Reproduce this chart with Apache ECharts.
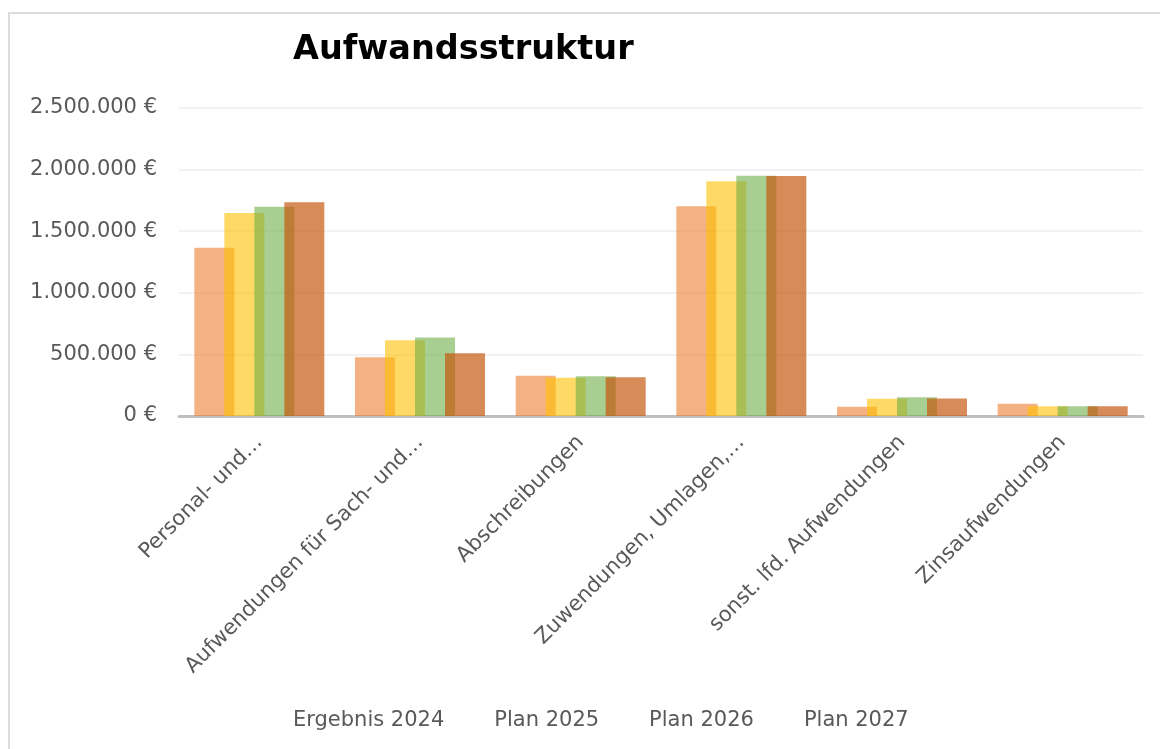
<!DOCTYPE html>
<html>
<head>
<meta charset="utf-8">
<title>Aufwandsstruktur</title>
<script src="https://cdn.jsdelivr.net/npm/echarts@6/dist/echarts.min.js"></script>
<style>
  html, body { margin: 0; padding: 0; background: #fff; overflow: hidden; }
  #frame { position: absolute; left: 8px; top: 12px; width: 1200px; height: 800px; border: 2px solid #dcdcdc; box-sizing: border-box; }
  #chart { position: absolute; left: 0; top: 0; width: 1160px; height: 749px; }
</style>
</head>
<body>
<div id="frame"></div>
<div id="chart"></div>
<script>
  // Kategorien (so wie im Diagramm gekuerzt angezeigt)
  var categories = ['Personal- und…', 'Aufwendungen für Sach- und…', 'Abschreibungen', 'Zuwendungen, Umlagen,…', 'sonst. lfd. Aufwendungen', 'Zinsaufwendungen'];
  var seriesNames = ['Ergebnis 2024', 'Plan 2025', 'Plan 2026', 'Plan 2027'];
  var ergebnis2024 = [1365000, 476000, 327000, 1702000, 75000, 100000];
  var plan2025 = [1647000, 614000, 311000, 1905000, 140000, 79000];
  var plan2026 = [1699000, 638000, 322000, 1950000, 152000, 79000];
  var plan2027 = [1734000, 509000, 314000, 1948000, 143000, 79000];
  var yTicks = [0, 500000, 1000000, 1500000, 2000000, 2500000];

  var colorList = ['#ED7D31', '#FFC000', '#70AD47', '#C55A11'];
  var opacityList = [0.6, 0.6, 0.6, 0.7];
  var fontFamily = '"DejaVu Sans", sans-serif';

  function euro(v) {
    var s = String(Math.round(v));
    return s.replace(/\B(?=(\d{3})+(?!\d))/g, '.') + ' €';
  }

  function makeSeries(name, data, i) {
    return {
      name: name,
      type: 'bar',
      data: data,
      barWidth: 40,
      barGap: '-25%',
      itemStyle: {
        color: colorList[i],
        opacity: opacityList[i]
      },
      emphasis: { disabled: true }
    };
  }

  var chart = echarts.init(document.getElementById('chart'), null, { renderer: 'canvas' });
  chart.setOption({
    animation: false,
    textStyle: { fontFamily: fontFamily },
    title: {
      text: 'Aufwandsstruktur',
      left: 293,
      top: 33,
      padding: 0,
      textStyle: { fontFamily: fontFamily, fontSize: 33.5, fontWeight: 'bold', color: '#000' }
    },
    legend: {
      data: seriesNames,
      left: 283,
      top: 705,
      icon: 'rect',
      itemWidth: 0,
      itemHeight: 14,
      itemGap: 45,
      selectedMode: false,
      textStyle: { fontFamily: fontFamily, fontSize: 21, color: '#595959' }
    },
    grid: {
      left: 179,
      right: 17,
      top: 108,
      bottom: 333,
      containLabel: false
    },
    xAxis: {
      type: 'category',
      data: categories,
      axisTick: { show: false },
      axisLine: { show: true, lineStyle: { color: '#bfbfbf', width: 3 } },
      axisLabel: {
        interval: 0,
        rotate: 45,
        margin: 23,
        fontSize: 21,
        fontFamily: fontFamily,
        color: '#595959'
      }
    },
    yAxis: {
      type: 'value',
      min: yTicks[0],
      max: yTicks[yTicks.length - 1],
      interval: yTicks[1] - yTicks[0],
      axisLine: { show: false },
      axisTick: { show: false },
      axisLabel: {
        margin: 22,
        fontSize: 21,
        fontFamily: fontFamily,
        color: '#595959',
        formatter: euro
      },
      splitLine: { lineStyle: { color: '#eeeeee', width: 1.5 } }
    },
    series: [
      makeSeries(seriesNames[0], ergebnis2024, 0),
      makeSeries(seriesNames[1], plan2025, 1),
      makeSeries(seriesNames[2], plan2026, 2),
      makeSeries(seriesNames[3], plan2027, 3)
    ]
  });
</script>
</body>
</html>
